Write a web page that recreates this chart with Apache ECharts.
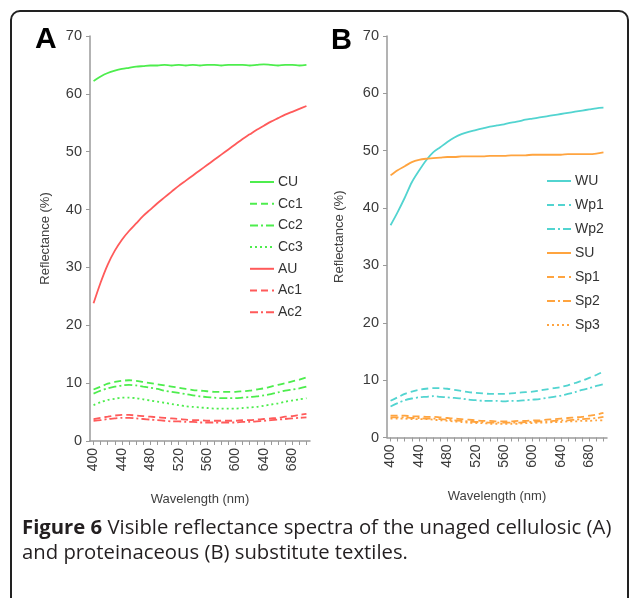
<!DOCTYPE html>
<html><head><meta charset="utf-8">
<script src="https://cdn.jsdelivr.net/npm/echarts@6/dist/echarts.min.js"></script>
<style>html,body{margin:0;padding:0;background:#fff}#c{width:630px;height:598px}</style>
</head><body><div id="c"></div>
<script>
const wavelengths = [400,410,420,430,440,450,460,470,480,490,500,510,520,530,540,550,560,570,580,590,600,610,620,630,640,650,660,670,680,690,700];
const yTicks = [0,10,20,30,40,50,60,70];
// Panel A
const CU  = [62.2,63.0,63.6,64.0,64.3,64.5,64.7,64.8,64.9,64.9,65.0,64.9,65.0,64.9,65.0,64.9,65.0,65.0,64.9,65.0,65.0,65.0,64.9,65.0,65.1,65.0,64.9,65.0,65.0,64.9,65.0];
const Cc1 = [8.9,9.4,9.9,10.2,10.4,10.5,10.4,10.2,10.0,9.8,9.6,9.4,9.2,9.0,8.8,8.7,8.6,8.5,8.5,8.5,8.5,8.6,8.7,8.9,9.1,9.4,9.7,10.0,10.3,10.6,11.0];
const Cc2 = [8.2,8.7,9.1,9.4,9.6,9.7,9.6,9.4,9.2,9.0,8.7,8.5,8.3,8.1,7.9,7.7,7.6,7.5,7.4,7.4,7.4,7.5,7.6,7.7,7.9,8.1,8.4,8.7,8.9,9.1,9.4];
const Cc3 = [6.2,6.7,7.1,7.3,7.5,7.5,7.4,7.2,7.0,6.8,6.6,6.4,6.2,6.0,5.9,5.8,5.7,5.6,5.6,5.6,5.6,5.7,5.8,5.9,6.1,6.3,6.5,6.8,7.0,7.2,7.4];
const AU  = [23.8,27.4,30.5,32.9,34.8,36.3,37.6,38.9,40.0,41.1,42.1,43.1,44.1,45.0,45.9,46.8,47.7,48.6,49.5,50.4,51.3,52.2,53.0,53.8,54.5,55.2,55.8,56.4,56.9,57.4,57.9];
const Ac1 = [3.8,4.0,4.2,4.4,4.5,4.5,4.4,4.3,4.2,4.1,4.0,3.9,3.8,3.7,3.6,3.6,3.5,3.5,3.5,3.5,3.5,3.6,3.6,3.7,3.8,3.9,4.0,4.2,4.3,4.5,4.7];
const Ac2 = [3.5,3.6,3.8,3.9,4.0,4.0,3.9,3.8,3.7,3.6,3.5,3.4,3.4,3.3,3.3,3.2,3.2,3.2,3.2,3.2,3.2,3.3,3.3,3.4,3.5,3.6,3.7,3.8,3.9,4.0,4.1];
// Panel B
const WU  = [37.0,39.3,41.8,44.5,46.5,48.3,49.7,50.6,51.5,52.3,52.9,53.3,53.6,53.9,54.2,54.4,54.6,54.9,55.1,55.4,55.6,55.8,56.0,56.2,56.4,56.6,56.8,57.0,57.2,57.4,57.5];
const Wp1 = [6.4,7.0,7.6,8.0,8.3,8.5,8.6,8.6,8.5,8.3,8.1,7.9,7.8,7.7,7.6,7.6,7.6,7.7,7.8,7.9,8.0,8.2,8.4,8.6,8.8,9.1,9.5,9.9,10.4,10.9,11.5];
const Wp2 = [5.4,6.0,6.5,6.8,7.0,7.1,7.2,7.1,7.0,6.9,6.8,6.6,6.5,6.4,6.4,6.4,6.3,6.4,6.4,6.5,6.6,6.7,6.9,7.1,7.3,7.6,7.9,8.3,8.6,9.0,9.3];
const SU  = [45.7,46.6,47.3,48.0,48.4,48.6,48.7,48.8,48.9,48.9,49.0,49.0,49.0,49.0,49.1,49.1,49.1,49.2,49.2,49.2,49.3,49.3,49.3,49.3,49.3,49.4,49.4,49.4,49.4,49.5,49.7];
const Sp1 = [3.8,3.8,3.8,3.7,3.7,3.6,3.6,3.5,3.4,3.3,3.2,3.1,3.0,2.9,2.9,2.8,2.8,2.8,2.9,2.9,3.0,3.0,3.1,3.2,3.3,3.4,3.5,3.6,3.8,4.0,4.3];
const Sp2 = [3.5,3.5,3.5,3.4,3.4,3.3,3.3,3.2,3.1,3.0,2.9,2.8,2.7,2.7,2.6,2.6,2.6,2.6,2.6,2.7,2.7,2.8,2.8,2.9,3.0,3.0,3.1,3.2,3.3,3.4,3.6];
const Sp3 = [3.3,3.3,3.3,3.2,3.2,3.2,3.1,3.0,2.9,2.8,2.7,2.6,2.5,2.5,2.4,2.4,2.4,2.4,2.4,2.5,2.5,2.6,2.6,2.7,2.7,2.8,2.8,2.9,2.9,3.0,3.0];

const GREEN = '#4ded4d', RED = '#ff5a5a', CYAN = '#52d4d0', ORANGE = '#ffa43f';
const SOLID = 'solid', DASH = [7,4], DASHDOT = [8,3,2,3], DOT = [2,3];
const FONT = 'Liberation Sans, Arial, sans-serif';

const seriesDefs = [
  ['CU', CU, GREEN, SOLID, 0], ['Cc1', Cc1, GREEN, DASH, 0], ['Cc2', Cc2, GREEN, DASHDOT, 0], ['Cc3', Cc3, GREEN, DOT, 0],
  ['AU', AU, RED, SOLID, 0], ['Ac1', Ac1, RED, DASH, 0], ['Ac2', Ac2, RED, DASHDOT, 0],
  ['WU', WU, CYAN, SOLID, 1], ['Wp1', Wp1, CYAN, DASH, 1], ['Wp2', Wp2, CYAN, DASHDOT, 1],
  ['SU', SU, ORANGE, SOLID, 1], ['Sp1', Sp1, ORANGE, DASH, 1], ['Sp2', Sp2, ORANGE, DASHDOT, 1], ['Sp3', Sp3, ORANGE, DOT, 1]
];

function xAxis(i) {
  return {
    type: 'category', gridIndex: i, data: wavelengths.map(String), boundaryGap: true,
    name: 'Wavelength (nm)', nameLocation: 'middle', nameGap: 52,
    nameTextStyle: {fontFamily: FONT, fontSize: 13, color: '#404040'},
    axisLine: {lineStyle: {color: '#9a9a9a', width: 1.5}},
    axisTick: {show: true, interval: 0, alignWithLabel: true, length: 4, lineStyle: {color: '#9a9a9a'}},
    axisLabel: {interval: 3, rotate: 90, fontFamily: FONT, fontSize: 14, color: '#3a3a3a', margin: 7},
    splitLine: {show: false}
  };
}
function yAxis(i, gap) {
  return {
    type: 'value', gridIndex: i, min: yTicks[0], max: yTicks[yTicks.length-1], interval: 10,
    name: 'Reflectance (%)', nameLocation: 'middle', nameGap: gap,
    nameTextStyle: {fontFamily: FONT, fontSize: 13, color: '#404040'},
    axisLine: {show: true, lineStyle: {color: '#9a9a9a', width: 1.5}},
    axisTick: {show: true, length: 4, lineStyle: {color: '#9a9a9a'}},
    axisLabel: {fontFamily: FONT, fontSize: 14.5, color: '#3a3a3a', margin: 8},
    splitLine: {show: false}
  };
}
function legend(names, left, top, gap) {
  return {
    data: names, orient: 'vertical', left: left, top: top, itemWidth: 24, itemHeight: 14, itemGap: gap,
    itemStyle: {opacity: 0, borderWidth: 0},
    textStyle: {fontFamily: FONT, fontSize: 14, color: '#333', padding: [0,0,0,-1]}, selectedMode: false
  };
}

const option = {
  backgroundColor: '#fff',
  animation: false,
  grid: [
    {left: 90, top: 36, width: 220, height: 405},
    {left: 387, top: 36, width: 220, height: 401.5}
  ],
  xAxis: [xAxis(0), xAxis(1)],
  yAxis: [yAxis(0, 38), yAxis(1, 41)],
  legend: [
    legend(['CU','Cc1','Cc2','Cc3','AU','Ac1','Ac2'], 244, 170, 7.7),
    legend(['WU','Wp1','Wp2','SU','Sp1','Sp2','Sp3'], 541, 169, 10)
  ],
  series: seriesDefs.map(d => ({
    name: d[0], type: 'line', data: d[1], xAxisIndex: d[4], yAxisIndex: d[4],
    symbol: 'none', smooth: 0.3, color: d[2],
    lineStyle: {color: d[2], width: 1.8, type: d[3]}, itemStyle: {color: d[2]}
  })),
  graphic: [
    {type: 'rect', shape: {x: 11, y: 11, width: 617, height: 620, r: 9}, style: {fill: 'none', stroke: '#222', lineWidth: 2}},
    {type: 'text', left: 35, top: 25, style: {text: 'A', font: 'bold 30px ' + FONT, fill: '#000'}},
    {type: 'text', left: 331, top: 26, style: {text: 'B', font: 'bold 29px ' + FONT, fill: '#000'}},
    {type: 'text', left: 22, top: 516, style: {
      text: '{b|Figure 6} Visible reflectance spectra of the unaged cellulosic (A)\nand proteinaceous (B) substitute textiles.',
      font: '20.3px "Open Sans", sans-serif', fill: '#231f20', lineHeight: 25,
      rich: {b: {font: 'bold 20.3px "Open Sans", sans-serif', fill: '#231f20', lineHeight: 25}}
    }}
  ]
};
const chart = echarts.init(document.getElementById('c'), null, {renderer: 'canvas'});
chart.setOption(option);
</script></body></html>
